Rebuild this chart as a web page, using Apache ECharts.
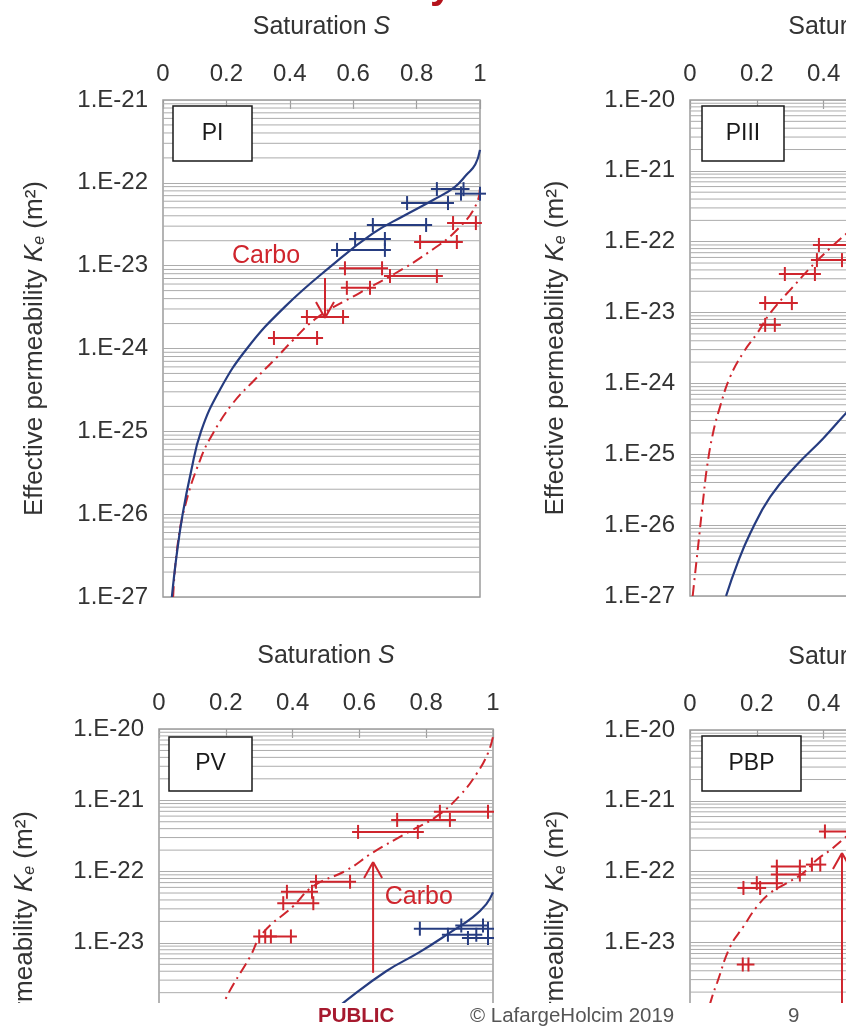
<!DOCTYPE html>
<html>
<head>
<meta charset="utf-8">
<script src="https://cdn.jsdelivr.net/npm/echarts@6/dist/echarts.min.js"></script>
<style>
  html, body { margin: 0; padding: 0; background: #fff; }
  #chart { width: 846px; height: 1026px; }
</style>
</head>
<body>
<div id="chart"></div>
<script>
// Effective permeability Ke versus liquid saturation S for four pastes.
// Curves: [S, Ke]; measurement bars: [S low, S high, Ke]; arrows: [S, Ke from, Ke to].

// ---- PI ----
const piBlueCurve = [[0.028, 1.0e-27], [0.043, 3.2e-27], [0.062, 1.0e-26], [0.088, 3.2e-26], [0.12, 1.0e-25],
  [0.18, 3.2e-25], [0.265, 1.0e-24], [0.385, 3.2e-24], [0.532, 1.0e-23], [0.662, 2.45e-23],
  [0.76, 4.0e-23], [0.852, 6.2e-23], [0.92, 8.9e-23], [0.958, 1.26e-22], [0.985, 1.66e-22], [1.0, 2.5e-22]];
const piRedCurve = [[0.032, 1.0e-27], [0.044, 3.7e-27], [0.069, 1.23e-26], [0.117, 4.5e-26], [0.158, 9.5e-26],
  [0.221, 2.2e-25], [0.284, 4.0e-25], [0.36, 7.9e-25], [0.41, 1.26e-24], [0.486, 2.35e-24], [0.621, 4.7e-24],
  [0.726, 7.8e-24], [0.833, 1.41e-23], [0.927, 2.7e-23], [0.991, 5.8e-23], [1.0, 9.0e-23]];
const piBlueBars = [[0.864, 0.948, 8.4e-23], [0.94, 1.0, 7.4e-23], [0.77, 0.899, 5.7e-23],
  [0.662, 0.83, 3.1e-23], [0.606, 0.70, 2.1e-23], [0.549, 0.70, 1.55e-23]];
const piRedBars = [[0.915, 0.987, 3.27e-23], [0.811, 0.927, 1.93e-23], [0.574, 0.691, 9.3e-24],
  [0.716, 0.864, 7.5e-24], [0.58, 0.653, 5.4e-24], [0.454, 0.568, 2.4e-24], [0.35, 0.486, 1.34e-24]];
const piArrows = [[0.511, 7.1e-24, 2.34e-24]];
const piCarboLabel = [[0.325, 1.31e-23]];

// ---- PIII ----
const p3BlueCurve = [[0.108, 1.0e-27], [0.141, 2.8e-27], [0.18, 7.6e-27], [0.24, 2.5e-26], [0.32, 7.1e-26],
  [0.398, 1.66e-25], [0.467, 3.8e-25], [0.50, 5.4e-25]];
const p3RedCurve = [[0.008, 1.0e-27], [0.024, 4.9e-27], [0.039, 2.2e-26], [0.051, 6.6e-26], [0.069, 2.0e-25],
  [0.09, 4.7e-25], [0.12, 1.23e-24], [0.159, 2.7e-24], [0.201, 5.1e-24], [0.24, 9.8e-24], [0.308, 2.3e-23],
  [0.389, 5.9e-23], [0.47, 1.32e-22]];
const p3BlueBars = [];
const p3RedBars = [[0.386, 0.50, 9.0e-23], [0.38, 0.455, 5.5e-23], [0.284, 0.374, 3.5e-23],
  [0.225, 0.305, 1.36e-23], [0.225, 0.254, 6.7e-24]];
const p3Arrows = [];
const p3CarboLabel = [];

// ---- PV ----
const pvBlueCurve = [[0.50, 8.9e-25], [0.563, 1.58e-24], [0.68, 4.0e-24], [0.78, 7.4e-24], [0.87, 1.38e-23],
  [0.94, 2.3e-23], [0.98, 3.5e-23], [1.0, 5.1e-23]];
const pvRedCurve = [[0.16, 5.0e-25], [0.198, 1.58e-24], [0.272, 6.3e-24], [0.311, 1.38e-23], [0.40, 3.2e-23],
  [0.461, 6.2e-23], [0.563, 1.05e-22], [0.641, 1.86e-22], [0.743, 3.5e-22], [0.83, 5.9e-22], [0.901, 1.17e-21],
  [0.952, 2.4e-21], [0.985, 4.6e-21], [1.0, 7.8e-21]];
const pvBlueBars = [[0.781, 0.985, 1.58e-23], [0.865, 0.95, 1.3e-23], [0.905, 0.97, 1.75e-23],
  [0.925, 0.985, 1.17e-23]];
const pvRedBars = [[0.841, 0.985, 6.9e-22], [0.713, 0.871, 5.3e-22], [0.596, 0.775, 3.6e-22],
  [0.47, 0.572, 7.2e-23], [0.383, 0.458, 5.2e-23], [0.372, 0.462, 3.6e-23], [0.30, 0.395, 1.23e-23],
  [0.318, 0.335, 1.23e-23]];
const pvArrows = [[0.641, 3.8e-24, 1.36e-22]];
const pvCarboLabel = [[0.778, 4.4e-23]];

// ---- PBP ----
const pbpBlueCurve = [];
const pbpRedCurve = [[0.04, 6.3e-25], [0.066, 1.7e-24], [0.081, 2.7e-24], [0.12, 8.7e-24], [0.159, 1.66e-23],
  [0.20, 3.2e-23], [0.24, 5.0e-23], [0.29, 6.9e-23], [0.338, 9.5e-23], [0.38, 1.48e-22], [0.419, 2.0e-22],
  [0.47, 3.2e-22]];
const pbpBlueBars = [];
const pbpRedBars = [[0.404, 0.50, 3.7e-22], [0.365, 0.39, 1.26e-22], [0.26, 0.329, 1.18e-22],
  [0.26, 0.329, 9.1e-23], [0.20, 0.26, 6.9e-23], [0.16, 0.21, 5.9e-23], [0.158, 0.175, 4.9e-24]];
const pbpArrows = [[0.455, 1.0e-24, 1.84e-22]];
const pbpCarboLabel = [];

// Panel tags and axis ranges (decade exponents of Ke)
const panelNames = ['PI', 'PIII', 'PV', 'PBP'];
const yMinExp = [-27, -27, -27, -27];
const yMaxExp = [-21, -20, -20, -20];
const xTickStep = 0.2;

const BLUE = '#263c80';
const RED = '#cf252d';
const TEXT = '#333333';
const GRIDLINE = '#acacac';
const FONT = '"Liberation Sans", Arial, sans-serif';

const layout = [
  { grid: { left: 163, top: 100, width: 317, height: 497 }, nameGap: 115 },
  { grid: { left: 690, top: 100, width: 334, height: 496 }, nameGap: 121 },
  { grid: { left: 159, top: 729, width: 334, height: 499 }, nameGap: 121 },
  { grid: { left: 690, top: 730, width: 334, height: 496 }, nameGap: 121 }
];

const panelData = [
  { blue: piBlueCurve, red: piRedCurve, blueBars: piBlueBars, redBars: piRedBars, arrows: piArrows, carbo: piCarboLabel },
  { blue: p3BlueCurve, red: p3RedCurve, blueBars: p3BlueBars, redBars: p3RedBars, arrows: p3Arrows, carbo: p3CarboLabel },
  { blue: pvBlueCurve, red: pvRedCurve, blueBars: pvBlueBars, redBars: pvRedBars, arrows: pvArrows, carbo: pvCarboLabel },
  { blue: pbpBlueCurve, red: pbpRedCurve, blueBars: pbpBlueBars, redBars: pbpRedBars, arrows: pbpArrows, carbo: pbpCarboLabel }
];

// the vertical axis is laid out in decades: Ke is placed by its base-10 exponent
const lg = Math.log10;
const curveToAxis = rows => rows.map(r => [r[0], lg(r[1])]);
const barsToAxis = rows => rows.map(r => [r[0], r[1], lg(r[2])]);
const arrowsToAxis = rows => rows.map(r => [r[0], lg(r[1]), lg(r[2])]);

// minor gridlines at 2..9 x 10^n
function minorLines(lo, hi) {
  const out = [];
  for (let e = lo; e < hi; e++) {
    for (let k = 2; k <= 9; k++) out.push([0, e + lg(k)]);
  }
  return out;
}

function renderMinor(params, api) {
  const cs = params.coordSys;
  const y = api.coord([0, api.value(1)])[1];
  return {
    type: 'line',
    shape: { x1: cs.x, y1: y, x2: cs.x + cs.width, y2: y },
    style: { stroke: GRIDLINE, lineWidth: 1 }
  };
}

// horizontal bar with a '+' at each end
function renderBar(color) {
  return function (params, api) {
    const k = api.value(2);
    const a = api.coord([api.value(0), k]);
    const b = api.coord([api.value(1), k]);
    const y = a[1], ext = 6, h = 7;
    const st = { stroke: color, lineWidth: 2 };
    return {
      type: 'group',
      children: [
        { type: 'line', shape: { x1: a[0] - ext, y1: y, x2: b[0] + ext, y2: y }, style: st },
        { type: 'line', shape: { x1: a[0], y1: y - h, x2: a[0], y2: y + h }, style: st },
        { type: 'line', shape: { x1: b[0], y1: y - h, x2: b[0], y2: y + h }, style: st }
      ]
    };
  };
}

function renderArrow(params, api) {
  const s = api.value(0);
  const p0 = api.coord([s, api.value(1)]);
  const p1 = api.coord([s, api.value(2)]);
  const dir = p1[1] > p0[1] ? 1 : -1;
  const hw = 9, hh = 16;
  const st = { stroke: RED, lineWidth: 2 };
  return {
    type: 'group',
    children: [
      { type: 'line', shape: { x1: p0[0], y1: p0[1], x2: p1[0], y2: p1[1] }, style: st },
      { type: 'line', shape: { x1: p1[0] - hw, y1: p1[1] - dir * hh, x2: p1[0], y2: p1[1] }, style: st },
      { type: 'line', shape: { x1: p1[0] + hw, y1: p1[1] - dir * hh, x2: p1[0], y2: p1[1] }, style: st }
    ]
  };
}

function renderCarbo(params, api) {
  const p = api.coord([api.value(0), api.value(1)]);
  return {
    type: 'text',
    x: p[0], y: p[1],
    style: { text: 'Carbo', fill: RED, fontSize: 25, fontFamily: FONT, align: 'center', verticalAlign: 'middle' }
  };
}

const grids = [], xAxes = [], yAxes = [], series = [];

layout.forEach((L, i) => {
  grids.push(Object.assign({
    show: true, borderColor: '#9c9c9c', borderWidth: 1.5, backgroundColor: '#fff',
    containLabel: false, outerBoundsMode: 'none'
  }, L.grid));

  xAxes.push({
    gridIndex: i, type: 'value', position: 'top', min: 0, max: 1, interval: xTickStep,
    name: '{a|Saturation }{b|S}', nameLocation: 'middle', nameGap: 60,
    nameTextStyle: { rich: {
      a: { fontSize: 25, color: TEXT, fontFamily: FONT },
      b: { fontSize: 25, color: TEXT, fontFamily: FONT, fontStyle: 'italic' }
    } },
    axisLine: { show: false, onZero: false },
    axisTick: { show: true, inside: true, length: 9, lineStyle: { color: '#9c9c9c', width: 1.2 } },
    axisLabel: { margin: 14, fontSize: 24, color: TEXT, fontFamily: FONT },
    splitLine: { show: false }
  });

  yAxes.push({
    gridIndex: i, type: 'value', min: yMinExp[i], max: yMaxExp[i], interval: 1,
    name: '{t|Effective permeability }{k|K}{e|e}{t| (m²)}', nameLocation: 'middle', nameRotate: 90,
    nameGap: L.nameGap,
    nameTextStyle: { rich: {
      t: { fontSize: 26, color: TEXT, fontFamily: FONT, verticalAlign: 'bottom' },
      k: { fontSize: 26, color: TEXT, fontFamily: FONT, fontStyle: 'italic', verticalAlign: 'bottom' },
      e: { fontSize: 16, color: TEXT, fontFamily: FONT, fontStyle: 'italic', verticalAlign: 'bottom' }
    } },
    axisLine: { show: false, onZero: false },
    axisTick: { show: false },
    axisLabel: {
      margin: 15, fontSize: 24, color: TEXT, fontFamily: FONT,
      formatter: v => '1.E' + Math.round(v)
    },
    splitLine: { show: true, lineStyle: { color: GRIDLINE, width: 1 } }
  });

  const d = panelData[i];
  const base = { xAxisIndex: i, yAxisIndex: i };

  series.push(Object.assign({
    type: 'custom', name: 'minor-grid-' + i, silent: true, z: 1,
    data: minorLines(yMinExp[i], yMaxExp[i]), encode: { x: 0, y: 1 }, renderItem: renderMinor
  }, base));

  series.push(Object.assign({
    type: 'line', name: panelNames[i] + ' carbonated', data: curveToAxis(d.red), smooth: 0.45,
    showSymbol: false, z: 3,
    lineStyle: { color: RED, width: 2, type: [11, 5, 2, 5] }, silent: true
  }, base));

  series.push(Object.assign({
    type: 'line', name: panelNames[i] + ' sound', data: curveToAxis(d.blue), smooth: 0.45,
    showSymbol: false, z: 4,
    lineStyle: { color: BLUE, width: 2.2 }, silent: true
  }, base));

  series.push(Object.assign({
    type: 'custom', name: panelNames[i] + ' carbonated data', data: barsToAxis(d.redBars), z: 5, silent: true,
    encode: { x: [0, 1], y: 2 }, renderItem: renderBar(RED)
  }, base));

  series.push(Object.assign({
    type: 'custom', name: panelNames[i] + ' sound data', data: barsToAxis(d.blueBars), z: 6, silent: true,
    encode: { x: [0, 1], y: 2 }, renderItem: renderBar(BLUE)
  }, base));

  series.push(Object.assign({
    type: 'custom', name: panelNames[i] + ' shift', data: arrowsToAxis(d.arrows), z: 7, silent: true,
    encode: { x: 0, y: [1, 2] }, renderItem: renderArrow
  }, base));

  series.push(Object.assign({
    type: 'custom', name: panelNames[i] + ' label', data: curveToAxis(d.carbo), z: 7, silent: true,
    encode: { x: 0, y: 1 }, renderItem: renderCarbo
  }, base));
});

// tag boxes [x, y, w, h]
const tagBoxes = [[173, 106, 79, 55], [702, 106, 82, 55], [169, 737, 83, 54], [702, 736, 99, 55]];
const graphics = [];
tagBoxes.forEach((b, i) => {
  graphics.push({ type: 'rect', z: 50, shape: { x: b[0], y: b[1], width: b[2], height: b[3] },
    style: { fill: '#fff', stroke: '#1a1a1a', lineWidth: 1.5 } });
  graphics.push({ type: 'text', z: 51, x: b[0] + b[2] / 2, y: b[1] + b[3] / 2,
    style: { text: panelNames[i], fill: '#1a1a1a', fontSize: 23, fontFamily: FONT, align: 'center', verticalAlign: 'middle' } });
});

// slide footer and the edge of the slide title above
graphics.push({ type: 'text', z: 60, x: 430, y: 7,
  style: { text: 'y', fill: '#b5121b', fontSize: 40, fontWeight: 'bold', fontFamily: FONT, align: 'left', verticalAlign: 'bottom' } });
graphics.push({ type: 'rect', z: 90, shape: { x: 0, y: 1003, width: 846, height: 23 }, style: { fill: '#fff' } });
graphics.push({ type: 'text', z: 91, x: 318, y: 1016,
  style: { text: 'PUBLIC', fill: '#a6192e', fontSize: 20.5, fontWeight: 'bold', fontFamily: FONT, verticalAlign: 'middle' } });
graphics.push({ type: 'text', z: 91, x: 470, y: 1016,
  style: { text: '© LafargeHolcim 2019', fill: '#555', fontSize: 20.5, fontFamily: FONT, verticalAlign: 'middle' } });
graphics.push({ type: 'text', z: 91, x: 788, y: 1016,
  style: { text: '9', fill: '#555', fontSize: 20.5, fontFamily: FONT, verticalAlign: 'middle' } });

const chart = echarts.init(document.getElementById('chart'), null, { renderer: 'canvas' });
chart.setOption({
  animation: false,
  backgroundColor: '#fff',
  textStyle: { fontFamily: FONT },
  grid: grids,
  xAxis: xAxes,
  yAxis: yAxes,
  series: series,
  graphic: graphics
});
</script>
</body>
</html>
